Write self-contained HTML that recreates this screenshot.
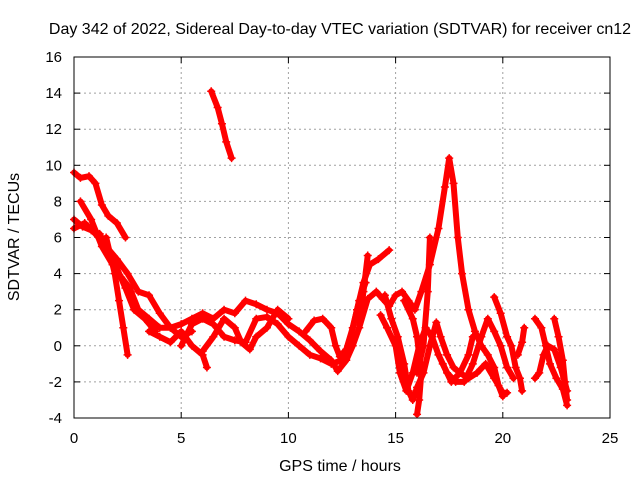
<!DOCTYPE html>
<html><head><meta charset="utf-8"><style>
body{margin:0;background:#fff;}
svg{display:block;font-family:"Liberation Sans",sans-serif;}
</style></head><body>
<svg id="chart" width="640" height="480">
<text x="340" y="34" font-size="16" text-anchor="middle">Day 342 of 2022, Sidereal Day-to-day VTEC variation (SDTVAR) for receiver cn12</text>
<text x="340" y="471" font-size="16" text-anchor="middle">GPS time / hours</text>
<text transform="translate(19,237) rotate(-90)" font-size="16" text-anchor="middle">SDTVAR / TECUs</text>
<g id="grid"></g><g id="ticks"></g><g id="series"></g>
<rect x="74" y="57" width="536" height="361" fill="none" stroke="#000" stroke-width="1"/>
</svg>
<script>
const xTicks=[0,5,10,15,20,25];
const yTicks=[-4,-2,0,2,4,6,8,10,12,14,16];
const trackA=[[0,9.6],[0.3,9.3],[0.7,9.4],[1.0,9.0],[1.3,7.8],[1.6,7.2],[2.0,6.8],[2.4,6.0]];
const trackB=[[0,7.0],[0.4,6.6],[0.8,6.4],[1.2,6.2],[1.6,5.2],[2.0,4.3],[2.4,3.2],[2.8,2.0],[3.3,1.5],[3.8,0.8]];
const trackC=[[0.3,8.0],[0.8,7.0],[1.3,5.5],[1.8,4.5],[2.2,3.8],[2.6,3.2],[3.0,2.0],[3.5,1.5],[4.0,1.0],[4.5,1.0],[5.0,0.5],[5.5,0.8]];
const trackD=[[1.5,6.0],[1.9,4.0],[2.1,2.5],[2.3,1.0],[2.5,-0.5]];
const trackE=[[0,6.5],[0.5,6.8],[1.0,6.2],[1.5,5.5],[2.0,4.8],[2.5,4.0],[3.0,3.0],[3.5,2.8],[4.0,1.8],[4.5,1.0],[5.0,1.2],[5.5,1.5],[6.0,1.8],[6.5,1.5],[7.0,2.0],[7.5,1.8],[8.0,2.5],[8.5,2.3],[9.0,2.0],[9.5,1.8],[10.0,1.2],[10.5,0.8],[11.0,0.3],[11.5,-0.3],[12.0,-0.8],[12.3,-1.4],[12.7,-0.8],[13.0,0],[13.3,1.0],[13.5,3.0],[13.7,5.0]];
const trackF=[[3.5,0.8],[4.0,0.5],[4.5,0.2],[5.0,0.8],[5.5,0],[6.0,-0.5],[6.2,-1.2]];
const trackG=[[5.0,0],[5.5,1.2],[6.0,1.5],[6.5,1.2],[7.0,0.5],[7.5,0.3],[8.0,0.2],[8.5,1.5],[9.0,1.6],[9.5,1.2],[10.0,0.5],[10.5,0],[11.0,-0.5],[11.5,-0.7],[12.0,-1.0],[12.5,-0.8],[12.8,0],[13.2,2.0],[13.5,3.5],[13.8,4.5],[14.2,4.8],[14.7,5.3]];
const trackH=[[6.0,-0.3],[6.5,0.5],[7.0,1.5],[7.5,1.0],[7.8,0.2],[8.2,-0.2],[8.5,0.5],[9.0,1.0],[9.5,2.0],[10.0,1.5]];
const trackI=[[6.4,14.1],[6.7,13.2],[6.9,12.3],[7.1,11.3],[7.35,10.4]];
const trackJ=[[10.8,0.8],[11.2,1.4],[11.6,1.5],[12.0,1.0],[12.2,0],[12.4,-0.6],[12.7,-0.2],[13.0,1.0],[13.3,2.5],[13.6,3.5]];
const trackK=[[13.3,1.0],[13.7,2.6],[14.1,3.0],[14.4,2.6],[14.7,2.2],[15.0,2.8],[15.3,3.0],[15.6,2.5],[15.9,2.0],[16.2,3.0],[16.6,4.5],[17.0,6.5],[17.3,8.8],[17.5,10.4],[17.7,9.0],[17.9,6.0],[18.1,4.0],[18.4,2.0],[18.7,0.8],[19.0,0],[19.3,-0.5],[19.6,-1.2],[19.8,-2.2],[20.0,-2.8]];
const trackL=[[14.5,2.8],[14.8,1.5],[15.1,0.5],[15.4,-1.0],[15.6,-2.5],[15.8,-3.0],[16.0,-2.3],[16.3,-1.5],[16.6,0],[16.9,1.3],[17.1,0.5],[17.4,-0.5],[17.7,-1.2],[18.0,-1.5],[18.4,-1.8],[18.8,-1.5],[19.2,-1.0],[19.6,-1.8],[20.0,-2.6],[20.2,-2.6]];
const trackM=[[14.3,1.7],[14.6,1.0],[15.0,0],[15.2,-1.5],[15.5,-2.5],[15.8,-1.5],[16.1,0],[16.4,1.0],[16.7,0.5],[17.0,-0.5],[17.4,-1.5],[17.8,-2.0],[18.2,-2.0],[18.6,-1.0],[19.0,0.5],[19.3,1.5],[19.6,0.8],[19.9,0],[20.2,-1.2],[20.5,-1.8]];
const trackN=[[15.4,2.5],[15.8,1.5],[16.0,0.5],[16.2,-1.5],[16.1,-3.0],[16.0,-3.8]];
const trackO=[[16.0,-1.5],[16.3,0],[16.5,3.0],[16.6,6.0]];
const trackP=[[17.2,-1.0],[17.6,-2.0],[18.0,-1.5],[18.4,-0.5],[18.6,0.5]];
const trackQ=[[19.6,2.7],[19.9,1.8],[20.2,0.5],[20.4,0],[20.6,-1.2],[20.8,-1.8],[20.9,-2.5]];
const trackR=[[20.7,-0.5],[20.9,0.2],[21.0,1.0]];
const trackS=[[21.5,1.5],[21.8,1.0],[22.0,0],[22.2,-1.0],[22.5,-1.8],[22.8,-2.4],[23.0,-3.3]];
const trackT=[[21.5,-1.8],[21.7,-1.5],[21.9,-0.5],[22.1,0],[22.4,-0.2],[22.7,-1.2],[23.0,-2.5]];
const trackU=[[22.4,1.5],[22.6,0.5],[22.8,-0.8],[22.9,-2.0],[23.0,-3.0]];
const tracks=[trackA,trackB,trackC,trackD,trackE,trackF,trackG,trackH,trackI,trackJ,trackK,trackL,trackM,trackN,trackO,trackP,trackQ,trackR,trackS,trackT,trackU];
const X0=74,X1=610,Y0=418,Y1=57;
const sx=t=>X0+(t-0)/(25-0)*(X1-X0);
const sy=v=>Y0-(v+4)/(16+4)*(Y0-Y1);
const NS='http://www.w3.org/2000/svg';
const grid=document.getElementById('grid'),ticks=document.getElementById('ticks'),ser=document.getElementById('series');
function mk(tag,at,parent){const e=document.createElementNS(NS,tag);for(const k in at)e.setAttribute(k,at[k]);parent.appendChild(e);return e;}
xTicks.forEach(t=>{const x=sx(t);
 if(t>0&&t<25){const g=mk('line',{x1:x,x2:x,y1:Y1,y2:Y0,stroke:'#a0a0a0','stroke-dasharray':'2,3'},grid);
 
 }
 mk('line',{x1:x,x2:x,y1:Y0,y2:Y0-6,stroke:'#000'},ticks);mk('line',{x1:x,x2:x,y1:Y1,y2:Y1+6,stroke:'#000'},ticks);
 const l=mk('text',{x:x,y:Y0+25,'font-size':15,'text-anchor':'middle'},ticks);l.textContent=t;
 
 });
yTicks.forEach(v=>{const y=sy(v);
 if(v>-4&&v<16){const g=mk('line',{x1:X0,x2:X1,y1:y,y2:y,stroke:'#a0a0a0','stroke-dasharray':'2,3'},grid);
 
 }
 mk('line',{x1:X0,x2:X0+6,y1:y,y2:y,stroke:'#000'},ticks);mk('line',{x1:X1,x2:X1-6,y1:y,y2:y,stroke:'#000'},ticks);
 const l=mk('text',{x:X0-12,y:y+5,'font-size':15,'text-anchor':'end'},ticks);l.textContent=v;
 
 });
tracks.forEach(tr=>{
 const p=mk('polyline',{points:tr.map(d=>sx(d[0])+','+sy(d[1])).join(' '),fill:'none',stroke:'#f00','stroke-width':6,'stroke-linejoin':'round','stroke-linecap':'round'},ser);
 
 
 tr.forEach(d=>{const x=sx(d[0]),y=sy(d[1]);
  const m=mk('path',{d:`M${x-4},${y}h8M${x},${y-4}v8`,stroke:'#f00','stroke-width':1.5},ser);
  
  });
});
</script>
</body></html>
